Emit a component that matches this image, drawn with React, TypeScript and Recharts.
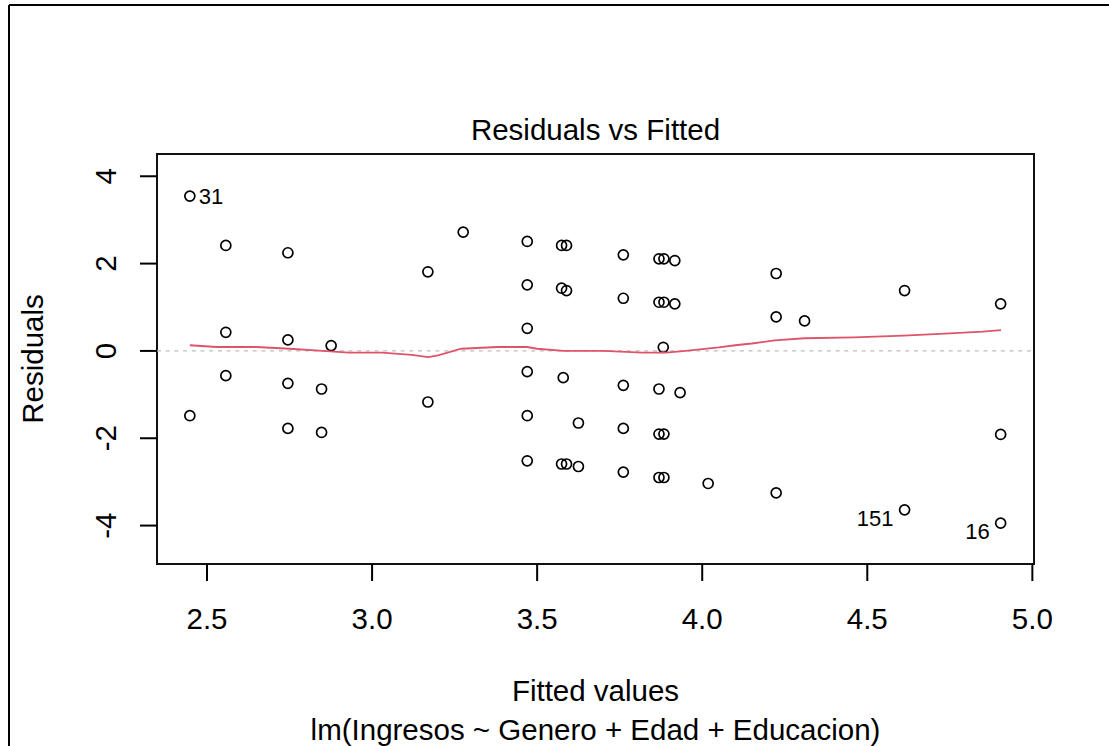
import React from 'react';
import {
  ScatterChart,
  Scatter,
  XAxis,
  YAxis,
  ReferenceLine,
  ReferenceArea,
} from 'recharts';

// fitted values and residuals
const fitted = [
  2.448, 2.448, 2.557, 2.557, 2.557, 2.745, 2.745, 2.745, 2.745, 2.847,
  2.847, 2.876, 3.169, 3.169, 3.276, 3.47, 3.47, 3.47, 3.47, 3.47,
  3.47, 3.574, 3.589, 3.574, 3.589, 3.579, 3.625, 3.574, 3.589, 3.625,
  3.761, 3.761, 3.761, 3.761, 3.761, 3.869, 3.884, 3.917, 3.869, 3.884,
  3.917, 3.882, 3.869, 3.933, 3.869, 3.884, 3.869, 3.884, 4.018, 4.224,
  4.224, 4.224, 4.31, 4.613, 4.613, 4.904, 4.904, 4.904,
];
const residuals = [
  3.546, -1.484, 2.415, 0.427, -0.567, 2.248, 0.252, -0.743, -1.775, -0.872,
  -1.867, 0.122, 1.812, -1.17, 2.72, 2.507, 1.514, 0.518, -0.475, -1.484,
  -2.516, 2.415, 2.415, 1.436, 1.383, -0.612, -1.651, -2.59, -2.59, -2.647,
  2.2, 1.206, -0.789, -1.775, -2.775, 2.11, 2.11, 2.07, 1.115, 1.115,
  1.078, 0.083, -0.872, -0.956, -1.904, -1.904, -2.899, -2.899, -3.036, 1.773,
  0.78, -3.25, 0.688, 1.383, -3.64, 1.078, -1.913, -3.945,
];
const labelIndex = [0, 54, 57];
const labelText = ['31', '151', '16'];

// smoother (red line)
const smoothX = [
  2.448, 2.53, 2.65, 2.75, 2.85, 2.93, 3.03, 3.12, 3.17, 3.2, 3.27, 3.38,
  3.47, 3.5, 3.58, 3.7, 3.82, 3.89, 3.95, 4.0, 4.05, 4.1, 4.15, 4.22, 4.31,
  4.46, 4.61, 4.72, 4.85, 4.905,
];
const smoothY = [
  0.13, 0.09, 0.09, 0.05, 0.0, -0.04, -0.04, -0.09, -0.14, -0.1, 0.05, 0.09,
  0.09, 0.05, 0.0, 0.0, -0.04, -0.04, 0.0, 0.04, 0.08, 0.13, 0.17, 0.24, 0.29,
  0.31, 0.35, 0.39, 0.44, 0.475,
];

const xTicks = [2.5, 3.0, 3.5, 4.0, 4.5, 5.0];
const yTicks = [-4, -2, 0, 2, 4];
const xDomain = [2.3485, 5.005];
const yDomain = [-4.88, 4.51];

const W = 1109;
const H = 746;
const PLOT_LEFT = 157;
const PLOT_RIGHT = 1034;
const PLOT_TOP = 154;
const PLOT_BOTTOM = 564;
const FONT = '"Liberation Sans", Arial, sans-serif';
const RED = '#DF536B';

const points = fitted.map((f, i) => {
  const k = labelIndex.indexOf(i);
  return { x: f, y: residuals[i], label: k >= 0 ? labelText[k] : null };
});
const smooth = smoothX.map((x, i) => ({ x, y: smoothY[i] }));
const midX = (xDomain[0] + xDomain[1]) / 2;

const PointShape = (props: any) => {
  const { cx, cy, payload } = props;
  if (cx == null || cy == null) return <g />;
  let lbl = null;
  if (payload.label) {
    const left = payload.x > midX;
    lbl = left ? (
      <text x={cx - 11} y={cy + 16} textAnchor="end" fontSize={22} fontFamily={FONT} fill="#000">
        {payload.label}
      </text>
    ) : (
      <text x={cx + 9} y={cy + 7.5} textAnchor="start" fontSize={22} fontFamily={FONT} fill="#000">
        {payload.label}
      </text>
    );
  }
  return (
    <g>
      <circle cx={cx} cy={cy} r={5} fill="none" stroke="#000" strokeWidth={1.7} />
      {lbl}
    </g>
  );
};

const XTick = (props: any) => {
  const { x, payload } = props;
  return (
    <text x={x} y={PLOT_BOTTOM + 65} textAnchor="middle" fontSize={29.5} fontFamily={FONT} fill="#000">
      {payload.value.toFixed(1)}
    </text>
  );
};

const YTick = (props: any) => {
  const { y, payload } = props;
  const bx = 116;
  return (
    <text
      x={bx}
      y={y}
      transform={`rotate(-90, ${bx}, ${y})`}
      textAnchor="middle"
      fontSize={29.5}
      fontFamily={FONT}
      fill="#000"
    >
      {payload.value}
    </text>
  );
};

export default function App() {
  return (
    <div style={{ position: 'absolute', left: 0, top: 0, width: W, height: H, overflow: 'hidden', background: '#fff' }}>
      <ScatterChart
        width={W}
        height={H}
        margin={{ top: PLOT_TOP, right: W - PLOT_RIGHT, bottom: 0, left: 0 }}
      >
        <XAxis
          type="number"
          dataKey="x"
          domain={xDomain}
          ticks={xTicks}
          allowDataOverflow
          height={H - PLOT_BOTTOM}
          axisLine={false}
          tickSize={17}
          tickLine={{ stroke: '#000', strokeWidth: 2 }}
          tick={<XTick />}
          interval={0}
        />
        <YAxis
          type="number"
          dataKey="y"
          domain={yDomain}
          ticks={yTicks}
          allowDataOverflow
          width={PLOT_LEFT}
          axisLine={false}
          tickSize={17}
          tickLine={{ stroke: '#000', strokeWidth: 2 }}
          tick={<YTick />}
          interval={0}
        />
        <ReferenceArea
          x1={xDomain[0]}
          x2={xDomain[1]}
          y1={yDomain[0]}
          y2={yDomain[1]}
          fill="none"
          fillOpacity={0}
          stroke="#111"
          strokeWidth={2}
        />
        <Scatter data={points} shape={<PointShape />} isAnimationActive={false} />
        <Scatter
          data={smooth}
          line={{ stroke: RED, strokeWidth: 1.8 }}
          shape={() => <g />}
          isAnimationActive={false}
        />
        <ReferenceLine y={0} stroke="#bebebe" strokeWidth={1.4} strokeDasharray="4 4.7" />
      </ScatterChart>
      <svg
        width={W}
        height={H}
        style={{ position: 'absolute', left: 0, top: 0, pointerEvents: 'none' }}
      >
        <line x1={9} y1={5} x2={9} y2={H} stroke="#000" strokeWidth={2} />
        <line x1={9} y1={5} x2={W} y2={5} stroke="#000" strokeWidth={2} />
        <text x={(PLOT_LEFT + PLOT_RIGHT) / 2} y={140} textAnchor="middle" fontSize={29.5} fontFamily={FONT} fill="#000">
          Residuals vs Fitted
        </text>
        <text x={(PLOT_LEFT + PLOT_RIGHT) / 2} y={701} textAnchor="middle" fontSize={29.5} fontFamily={FONT} fill="#000">
          Fitted values
        </text>
        <text x={(PLOT_LEFT + PLOT_RIGHT) / 2} y={740} textAnchor="middle" fontSize={29.5} fontFamily={FONT} fill="#000">
          lm(Ingresos ~ Genero + Edad + Educacion)
        </text>
        <text
          x={43}
          y={(PLOT_TOP + PLOT_BOTTOM) / 2}
          transform={`rotate(-90, 43, ${(PLOT_TOP + PLOT_BOTTOM) / 2})`}
          textAnchor="middle"
          fontSize={29.5}
          fontFamily={FONT}
          fill="#000"
        >
          Residuals
        </text>
      </svg>
    </div>
  );
}
